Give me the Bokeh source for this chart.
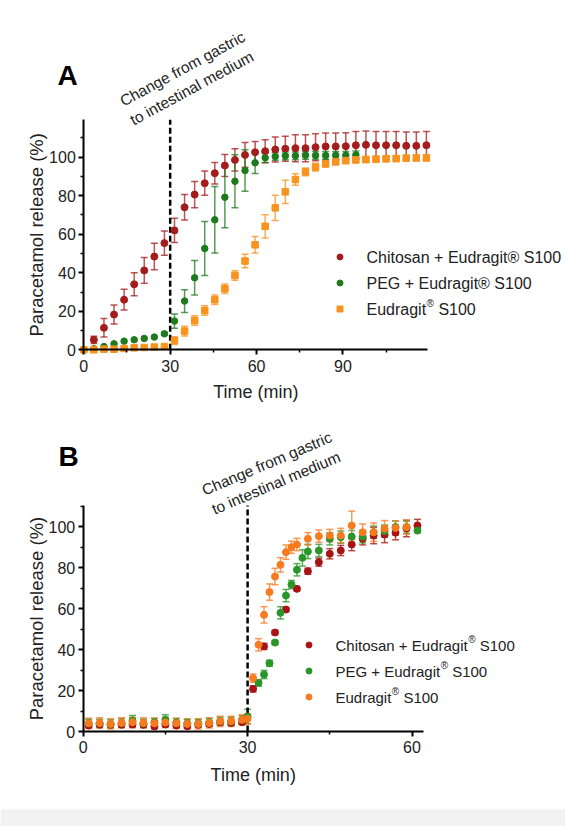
import math
from bokeh.plotting import figure
from bokeh.models import (Range1d, FixedTicker, Label, Whisker, TeeHead, BoxAnnotation,
                          ColumnDataSource, Legend, LegendItem)
from bokeh.layouts import column
from bokeh.core.properties import value
from bokeh.embed import file_html
from bokeh.resources import INLINE

FONT = "Liberation Sans"
TXT = "#222222"

# ---------------- Panel A data ----------------
time_a = [0, 3.5, 7, 10.5, 14, 17.5, 21, 24.5, 28, 31.5, 35, 38.5, 42, 45.5, 49, 52.5,
          56, 59.5, 63, 66.5, 70, 73.5, 77, 80.5, 84, 87.5, 91, 94.5, 98, 101.5, 105,
          108.5, 112, 115.5, 119]
chitosan_a = [0, 5.2, 11.4, 18.3, 26.0, 34.0, 41.2, 48.4, 55.4, 62.0, 74.0, 80.6, 86.5,
              91.7, 95.7, 98.6, 101.2, 102.6, 103.1, 104.0, 104.4, 104.7, 104.7, 105.2,
              105.6, 105.6, 105.7, 106.2, 106.4, 106.2, 106.2, 106.2, 105.9, 105.9, 106.2]
chitosan_a_sd = [0, 1.9, 4.8, 4.9, 5.4, 6.0, 6.7, 6.9, 6.3, 6.3, 6.6, 6.8, 6.3, 5.6, 5.7,
                 5.8, 6.4, 5.5, 6.0, 6.5, 6.5, 7.0, 7.0, 7.0, 7.0, 7.0, 7.0, 7.2, 7.2, 7.2,
                 7.2, 7.2, 7.2, 7.2, 7.2]
time_a_peg = [0, 3.5, 7, 10.5, 14, 17.5, 21, 24.5, 28, 31.5, 35, 38.5, 42, 45.5, 49, 52.5,
              56, 59.5, 63, 66.5, 70, 73.5, 77, 80.5, 84, 87.5, 91, 94.5]
peg_a = [0, 0.5, 1.7, 3.1, 4.5, 5.2, 5.9, 6.6, 8.3, 14.9, 25.3, 37.4, 52.6, 67.5, 79.2,
         87.5, 93.1, 97.1, 99.7, 100.4, 100.7, 100.7, 101.0, 100.9, 100.9, 101.0, 101.0, 101.2]
peg_a_sd = [0, 0, 0, 0, 0, 0, 0, 0, 0.8, 3.7, 5.9, 9.0, 14.0, 17.3, 15.8, 13.8, 10.8, 5.6,
            2.5, 2, 2, 2, 2, 2, 2, 2, 2, 2]
eudragit_a = [0, 0, 0.3, 0.3, 0.7, 1.0, 1.2, 1.4, 1.7, 4.8, 9.7, 15.2, 20.4, 26.0, 31.7,
              38.6, 46.1, 54.5, 64.1, 73.7, 82.0, 88.4, 92.4, 94.8, 96.5, 97.6, 98.2, 98.6,
              98.8, 99.0, 99.2, 99.3, 99.5, 99.6, 99.6]
eudragit_a_sd = [0, 0, 0, 0, 0, 0, 0, 0, 0, 2.0, 2.5, 2.5, 2.5, 2.5, 2.5, 2.5, 3.5, 4.3,
                 6.0, 6.6, 6.0, 3.0, 2.0, 2.0, 1.5, 1.5, 1.5, 1.5, 1.5, 1.5, 1.5, 1.5, 1.5,
                 1.5, 1.5]

# ---------------- Panel B data ----------------
time_b_chitosan = [1, 3, 5, 7, 9, 11, 13, 15, 17, 19, 21, 23, 25, 27, 29, 31, 33, 35, 37,
                   39, 41, 43, 45, 47, 49, 51, 53, 55, 57, 59, 61]
chitosan_b = [2.9, 3.3, 3.3, 3.3, 3.4, 3.3, 2.5, 3.4, 2.9, 2.6, 3.3, 3.7, 4.5, 4.2, 4.5,
              20.8, 41.5, 48.3, 59.5, 69.6, 78.2, 82.6, 86.7, 88.3, 91.2, 94.0, 95.6, 96.1,
              97.0, 99.0, 100.5]
chitosan_b_sd = [1, 1, 1, 1, 1.5, 1, 1, 1, 1, 1, 1, 1, 1, 1, 1, 1.5, 1.5, 1, 1, 1, 1.5,
                 2, 2.5, 2.5, 3, 3, 4, 4, 3.5, 4, 3]
time_b_peg = [1, 3, 5, 7, 9, 11, 13, 15, 17, 19, 21, 23, 25, 27, 29, 30, 32, 33, 34, 35,
              36, 37, 38, 39, 40, 41, 43, 45, 47, 49, 51, 53, 55, 57, 59, 61]
peg_b = [4.0, 4.0, 3.7, 4.2, 5.3, 4.0, 4.5, 5.7, 4.4, 4.0, 4.0, 4.4, 5.0, 4.9, 5.7, 7.3,
         23.7, 27.8, 33.3, 43.4, 57.9, 66.3, 71.7, 78.9, 84.7, 87.8, 88.3, 94.0, 94.8,
         95.1, 95.0, 97.2, 97.7, 99.7, 99.7, 98.0]
peg_b_sd = [2, 2, 2, 2, 2.5, 2, 2, 2.5, 2, 2, 2, 2, 2, 2, 2, 3.5, 1.5, 2, 1.5, 1, 3, 3,
            2, 3, 4, 3.5, 3, 3, 3, 3, 3, 3, 3, 3, 3, 1]
time_b_eudragit = [1, 3, 5, 7, 9, 11, 13, 15, 17, 19, 21, 23, 25, 27, 29, 30, 31, 32, 33,
                   34, 35, 36, 37, 38, 39, 41, 43, 45, 47, 49, 51, 53, 55, 57, 59]
eudragit_b = [4.0, 4.2, 3.7, 4.2, 4.5, 4.2, 4.0, 4.4, 4.0, 3.7, 3.7, 4.2, 5.0, 5.0, 5.7,
              6.2, 26.0, 42.3, 56.9, 68.0, 75.6, 81.3, 87.5, 89.9, 91.2, 94.0, 95.3, 95.6,
              95.6, 100.5, 97.2, 97.2, 98.9, 99.3, 99.7]
eudragit_b_sd = [2.5, 2.5, 2.5, 2.5, 2.5, 2.5, 2.5, 2.5, 2.5, 2.5, 2.5, 2.5, 2.5, 2.5, 2.5,
                 2.5, 2, 3, 4, 4, 4, 3.5, 3.5, 3, 3, 3, 3, 3, 3.5, 7, 4, 4.5, 4, 3.5, 3.5]

# ---------------- Text / ticks ----------------
y_label = "Paracetamol release (%)"
x_label = "Time (min)"
annot_lines = ["Change from gastric", "to intestinal medium"]
x_ticks_a, x_minor_a = [0, 30, 60, 90], [15, 45, 75, 105]
x_ticks_b, x_minor_b = [0, 30, 60], [15, 45]
y_ticks, y_minor = [0, 20, 40, 60, 80, 100], [10, 30, 50, 70, 90, 110]
switch_time = 30

ARIAL = {' ': 278, '+': 584, 'C': 722, 'h': 556, 'i': 222, 't': 278, 'o': 556, 's': 500,
         'a': 556, 'n': 556, 'E': 667, 'u': 556, 'd': 556, 'r': 333, 'g': 556, 'P': 667,
         'G': 778, 'S': 667, '1': 556, '0': 556, '\u00ae': 737}


def tw(s, fs):
    return sum(ARIAL.get(c, 556) for c in s) * fs / 1000.0


PAGE_W = 565
ANNOT_FS = 15.5


def make_panel(cfg):
    top, H = cfg["top"], cfg["height"]
    ox, oy = cfg["origin"]            # page px of data point (0, 0)
    sx, sy = cfg["scale"]             # px per data unit
    xb, yb = cfg["xb"], cfg["yb"]     # axis extents (data units)
    x_range = Range1d(-ox / sx, (PAGE_W - ox) / sx)
    y_range = Range1d(-(top + H - oy) / sy, (oy - top) / sy)
    p = figure(width=PAGE_W, height=H, min_border=0, x_range=x_range, y_range=y_range,
               output_backend="svg", toolbar_location=None)
    p.grid.visible = False
    p.outline_line_color = None
    p.background_fill_color = "white"
    p.border_fill_color = "white"

    def d(px, py):
        return (px - ox) / sx, (oy - py) / sy

    if cfg.get("band"):
        b0, b1 = cfg["band"]
        p.add_layout(BoxAnnotation(top=d(0, b0)[1], bottom=d(0, b1)[1],
                                   fill_color="#f2f2f2", fill_alpha=1, line_alpha=0,
                                   level="underlay"))

    for ax in (p.xaxis[0], p.yaxis[0]):
        ax.fixed_location = 0
        ax.axis_line_width = 2
        ax.axis_line_color = "black"
        ax.major_tick_line_width = 2
        ax.major_tick_line_color = "black"
        ax.major_tick_in = 0
        ax.major_tick_out = 5
        ax.minor_tick_line_width = 1.5
        ax.minor_tick_line_color = "black"
        ax.minor_tick_in = 0
        ax.minor_tick_out = 3
        ax.major_label_text_font = FONT
        ax.major_label_text_font_size = "16px"
        ax.major_label_text_color = TXT
    p.xaxis[0].bounds = xb
    p.yaxis[0].bounds = yb
    p.xaxis[0].ticker = FixedTicker(ticks=cfg["xt"], minor_ticks=cfg["xmt"])
    p.yaxis[0].ticker = FixedTicker(ticks=y_ticks, minor_ticks=y_minor)
    p.xaxis[0].major_label_standoff = cfg["xstand"]
    p.yaxis[0].major_label_standoff = 3

    # axis titles, centred on the drawn axis extent
    cx = (xb[0] + xb[1]) / 2
    p.add_layout(Label(x=cx, y=d(0, cfg["xlabel_y"])[1], text=x_label, text_font=FONT,
                       text_font_size="18px", text_color=TXT, text_align="center",
                       text_baseline="middle"))
    cy = (yb[0] + yb[1]) / 2
    p.add_layout(Label(x=d(cfg["ylabel_x"], 0)[0], y=cy, text=y_label, text_font=FONT,
                       text_font_size="18.5px", text_color=TXT, text_align="center",
                       text_baseline="middle", angle=90, angle_units="deg"))

    # medium-change marker
    p.segment(x0=[switch_time], y0=[yb[0]], x1=[switch_time], y1=[yb[1]],
              line_color="black", line_width=2.5, line_dash="6 3")

    renderers = []
    for (t, v, e, col, marker, size) in cfg["series"]:
        tt = [a for a, s in zip(t, e) if s > 0]
        up = [a + s for a, s in zip(v, e) if s > 0]
        lo = [a - s for a, s in zip(v, e) if s > 0]
        wsrc = ColumnDataSource(dict(x=tt, upper=up, lower=lo))
        w = Whisker(base="x", upper="upper", lower="lower", source=wsrc,
                    dimension="height", line_color=col, line_alpha=0.75, line_width=1.5,
                    level="underlay",
                    upper_head=TeeHead(size=7, line_color=col, line_alpha=0.75, line_width=1.5),
                    lower_head=TeeHead(size=7, line_color=col, line_alpha=0.75, line_width=1.5))
        p.add_layout(w)
        src = ColumnDataSource(dict(x=t, y=v))
        r = p.scatter("x", "y", source=src, marker=marker, size=size,
                      fill_color=col, line_color=col)
        renderers.append(r)

    lx, ly, spacing = cfg["legend"]
    leg_bottom = ly - 7.5 + 45 + 2 * spacing
    legend = Legend(items=[LegendItem(label=value(" "), renderers=[r]) for r in renderers],
                    location=(lx - 7.5, top + H - leg_bottom),
                    orientation="vertical", glyph_width=15, glyph_height=15,
                    label_height=15, label_width=0, label_standoff=0,
                    label_text_font_size="1px", spacing=spacing, padding=0, margin=0,
                    border_line_alpha=0, background_fill_alpha=0)
    p.add_layout(legend)

    tx, fs = cfg["legend_text_x"], cfg["legend_fs"]
    for i, (main, sup, tail) in enumerate(cfg["legend_texts"]):
        yrow = ly + i * (15 + spacing) + 0.5
        x0, y0 = d(tx, yrow)
        p.add_layout(Label(x=x0, y=y0, text=main, text_font=FONT, text_font_size=f"{fs}px",
                           text_color=TXT, text_align="left", text_baseline="middle"))
        if sup:
            sxp = tx + tw(main, fs) + 0.5
            x1, y1 = d(sxp, yrow - 5.5)
            p.add_layout(Label(x=x1, y=y1, text=sup, text_font=FONT, text_font_size="10px",
                               text_color=TXT, text_align="left", text_baseline="middle"))
            x2, y2 = d(sxp + tw(sup, 10) + tw(" ", fs), yrow)
            p.add_layout(Label(x=x2, y=y2, text=tail, text_font=FONT,
                               text_font_size=f"{fs}px", text_color=TXT,
                               text_align="left", text_baseline="middle"))

    # rotated annotation: positions given as baseline start, shifted to text mid-line
    ang = cfg["annot_angle"]
    off = 0.33 * ANNOT_FS
    ux, uy = -math.sin(math.radians(ang)), -math.cos(math.radians(ang))
    for (px, py), line in zip(cfg["annot_pos"], annot_lines):
        ax_, ay_ = d(px + ux * off, py + uy * off)
        p.add_layout(Label(x=ax_, y=ay_, text=line, text_font=FONT,
                           text_font_size=f"{ANNOT_FS}px", text_color=TXT,
                           text_align="left", text_baseline="middle",
                           angle=ang, angle_units="deg"))

    lx_, ly_ = d(*cfg["letter_pos"])
    p.add_layout(Label(x=lx_, y=ly_, text=cfg["letter"], text_font=FONT,
                       text_font_size="28px", text_font_style="bold", text_color="black",
                       text_align="left", text_baseline="middle"))
    return p


RED_A, GREEN_A, ORANGE_A = "#a51c1c", "#1d7a1d", "#f7931e"
RED_B, GREEN_B, ORANGE_B = "#a81414", "#2a962a", "#f87a1e"

cfg_a = dict(
    top=0, height=405, origin=(83.3, 349.3), scale=(2.879, 1.926),
    xb=(0, 119.5), yb=(0, 119.4), xt=x_ticks_a, xmt=x_minor_a, xstand=5,
    xlabel_y=391, ylabel_x=35.5,
    series=[(time_a, chitosan_a, chitosan_a_sd, RED_A, "circle", 7),
            (time_a_peg, peg_a, peg_a_sd, GREEN_A, "circle", 6.5),
            (time_a, eudragit_a, eudragit_a_sd, ORANGE_A, "square", 6.5)],
    legend=(339, 256, 11), legend_text_x=366, legend_fs=16,
    legend_texts=[("Chitosan + Eudragit\u00ae S100", None, None),
                  ("PEG + Eudragit\u00ae S100", None, None),
                  ("Eudragit", "\u00ae", "S100")],
    annot_pos=[(123, 106), (133, 125)], annot_angle=28.5,
    letter="A", letter_pos=(57, 75),
)
cfg_b = dict(
    top=405, height=421, origin=(82.7, 731), scale=(5.48, 2.05),
    xb=(0, 62.05), yb=(0, 110.2), xt=x_ticks_b, xmt=x_minor_b, xstand=4,
    xlabel_y=774, ylabel_x=35.5, band=(809, 826),
    series=[(time_b_chitosan, chitosan_b, chitosan_b_sd, RED_B, "circle", 7),
            (time_b_peg, peg_b, peg_b_sd, GREEN_B, "circle", 7),
            (time_b_eudragit, eudragit_b, eudragit_b_sd, ORANGE_B, "circle", 7)],
    legend=(308, 644, 11), legend_text_x=335, legend_fs=15,
    legend_texts=[("Chitosan + Eudragit", "\u00ae", "S100"),
                  ("PEG + Eudragit", "\u00ae", "S100"),
                  ("Eudragit", "\u00ae", "S100")],
    annot_pos=[(204, 495), (214, 514)], annot_angle=23,
    letter="B", letter_pos=(58, 456),
)

pa = make_panel(cfg_a)
pb = make_panel(cfg_b)
layout = column(pa, pb)
open("out.html", "w").write(file_html(layout, INLINE))
